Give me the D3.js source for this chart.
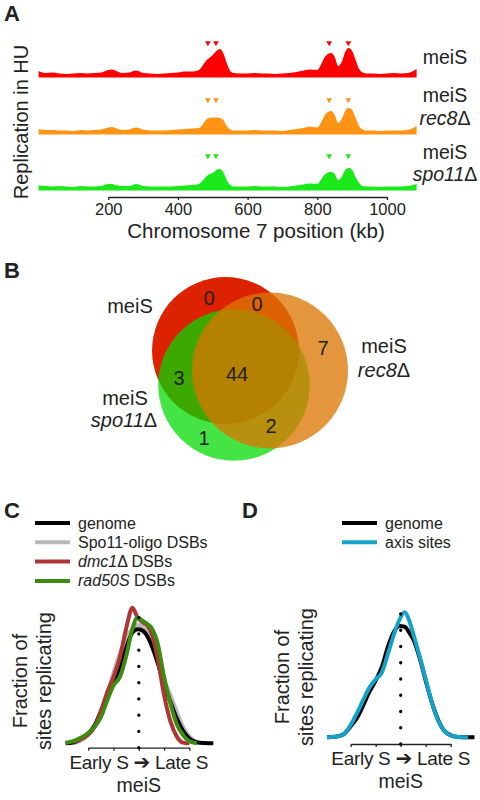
<!DOCTYPE html>
<html>
<head>
<meta charset="utf-8">
<script src="https://cdn.jsdelivr.net/npm/d3@7"></script>
<style>
  body { margin: 0; background: #fff; }
  .container { width: 480px; height: 800px; }
</style>
</head>
<body>
<div class="container"></div>
<script>
// ---- panel A: replication in HU along chromosome 7 (kb) ----
const chrPos = [0,20,40,60,80,100,120,140,160,180,200,210,220,240,260,280,300,320,340,360,380,400,420,440,460,
  470,480,490,500,510,520,530,540,550,560,580,600,620,640,660,680,700,720,740,760,780,800,
  810,820,830,840,850,860,870,880,890,900,910,920,930,940,960,980,1000,1020,1040,1060,1085];
const meiS = [3,1,1.5,0.5,0,0.5,1,0.5,1,1.5,4, 4.5,3.5, 1,1.5,3.5,1,0.5,0,0.5,1,1.5,2.5,2.5,4,
  8,13,16,19,23,25,21,11,3,1, 0.5,0.5,1,0.5,0.5,0,0.5,1,2,3.5,4.5,4,
  9,16,20,21,17,8,12,22,26,23,14,5,1.5,0.5, 0.5,0,0.5,1,0.5,1,5];
const meiSrec8 = [2,1,1,0.5,0.5,0,1,0.5,1,1.5,3.5, 4,3, 1,1.5,3.5,1.5,0.5,0.5,0.5,1,1.5,2,2.5,3,
  6,11,13,13.5,13.5,13,11,5,1.5,0.5, 0.5,0.5,1,0.5,0.5,0.5,0,1,2,3,4.5,3.5,
  8,15,19,20,16,8,12,20,23,21,13,5,1.5,0.5, 0.5,0,0.5,0.5,0.5,1,5];
const meiSspo11 = [1.5,1,0.5,1,0.5,0,1,0.5,0.5,1,3, 3,2, 1,1,3,1,0.5,0.5,0.5,0.5,1,1.5,2,3,
  6,10,13,14,17,18,15,7,2,0.5, 0.5,0.5,1,0.5,0.5,0.5,0,0.5,1.5,2.5,3.5,3,
  7,12,14.5,15,13,7,10,17,19,17,10,4,1,0.5, 0.5,0,0.5,0.5,0.5,1,3];
const originKb = [486, 509, 834, 889];
const chrTicks = [200, 400, 600, 800, 1000];

// ---- panel B: overlap of sites ----
const vennSets = ['meiS', 'meiS rec8Δ', 'meiS spo11Δ'];
const vennRegions = [[0], [0, 1], [1], [0, 2], [0, 1, 2], [1, 2], [2]];
const vennCounts = [0, 0, 7, 3, 44, 2, 1];

// ---- panel C / D: replication timing density ----
const rtC = [-0.9,-0.6,-0.3,0,0.25,0.5,0.75,1,1.25,1.5,1.75,1.95,2.15,2.35,2.5,2.75,3,3.25,3.5,3.75,4,4.3,4.6,4.95];
const genomeC = [0,0.005,0.03,0.07,0.13,0.23,0.33,0.44,0.54,0.69,0.80,0.824,0.815,0.77,0.71,0.58,0.43,0.30,0.18,0.09,0.035,0.008,0.002,0];
const spo11C = [null,0,0.02,0.06,0.12,0.24,0.36,0.51,0.65,0.76,0.83,0.855,0.845,0.80,0.75,0.62,0.46,0.35,0.23,0.12,0.05,0.005,null,null];
const dmc1C = [null,0.01,0.03,0.065,0.12,0.23,0.37,0.48,0.62,0.83,0.98,0.91,0.875,0.85,0.80,0.61,0.35,0.16,0.05,0.005,0,null,null,null];
const rad50C = [0.004,0.015,0.04,0.075,0.12,0.19,0.31,0.42,0.48,0.63,0.83,0.91,0.885,0.86,0.835,0.72,0.48,0.29,0.14,0.06,0.015,0,null,null];

const rtD = [-0.95,-0.6,-0.3,0,0.25,0.5,0.75,1,1.25,1.5,1.75,1.95,2.15,2.35,2.5,2.75,3,3.25,3.5,3.75,4,4.3,4.7,4.95];
const genomeD = [0,0.004,0.02,0.08,0.14,0.23,0.33,0.41,0.51,0.66,0.77,0.805,0.80,0.755,0.71,0.58,0.41,0.25,0.125,0.045,0.015,0.003,0,0];
const axisD = [0,0.004,0.02,0.09,0.175,0.27,0.36,0.42,0.47,0.61,0.755,0.85,0.905,0.84,0.75,0.59,0.42,0.25,0.12,0.045,0.012,0.002,0,null];
const rtTicks = [0, 1, 2, 3, 4];


const font = '"Liberation Sans", Arial, Helvetica, sans-serif';
const ink = '#222';

let svg = d3.select('.container').append('svg')
  .attr('width', 480)
  .attr('height', 800)
  .style('background', '#fff')
  .style('font-family', font);

// writes a label made of pieces, some of them italic
function rich(sel, parts) {
  parts.forEach(p => {
    sel.append('tspan')
      .attr('font-style', p[1] ? 'italic' : 'normal')
      .text(p[0]);
  });
  return sel;
}

function label(g, x, y, parts, size, anchor) {
  let t = g.append('text')
    .attr('x', x)
    .attr('y', y)
    .attr('fill', ink)
    .attr('font-size', size)
    .attr('text-anchor', anchor || 'middle');
  return rich(t, parts);
}

// panel letters
[['A', 4, 21], ['B', 4, 278], ['C', 4, 518], ['D', 242, 518]].forEach(p => {
  svg.append('text').attr('x', p[1]).attr('y', p[2])
    .attr('font-size', 22).attr('font-weight', 'bold').attr('fill', ink)
    .text(p[0]);
});

// ================= A =================
let gA = svg.append('g');
const xA = d3.scaleLinear().domain([0, 1000]).range([38.6, 387]);
const yA = d3.scaleLinear().domain([0, 30]).range([0, 30]);

const tracks = [
  {values: meiS, color: '#ff0000', base: 74, lines: [[['meiS', false]]]},
  {values: meiSrec8, color: '#ff9414', base: 131, lines: [[['meiS', false]], [['rec8', true], ['Δ', false]]]},
  {values: meiSspo11, color: '#1aea1a', base: 187, lines: [[['meiS', false]], [['spo11', true], ['Δ', false]]]}
];
const trackLabelY = [[64], [102, 125], [159, 181]];

tracks.forEach((t, k) => {
  const area = d3.area()
    .x((d, i) => xA(chrPos[i]))
    .y0(t.base + 3.5)
    .y1(d => t.base - yA(d))
    .curve(d3.curveMonotoneX);

  gA.append('path')
    .datum(t.values)
    .attr('d', area)
    .attr('fill', t.color);

  gA.selectAll(null)
    .data(originKb)
    .enter()
    .append('path')
    .attr('d', d3.symbol(d3.symbolTriangle, 14))
    .attr('transform', d => `translate(${xA(d)},${t.base - 31}) rotate(180)`)
    .attr('fill', t.color);

  t.lines.forEach((ln, j) => label(gA, 445, trackLabelY[k][j], ln, 19.5));
});

const xAxisA = d3.scaleLinear().domain([200, 1000]).range([xA(200), xA(1000)]);
let axA = gA.append('g')
  .attr('transform', 'translate(0,197)')
  .call(d3.axisBottom(xAxisA).tickValues(chrTicks).tickSize(3).tickSizeOuter(0).tickFormat(d3.format('d')));
axA.attr('font-family', font).attr('font-size', 16.5);
axA.selectAll('path, line').attr('stroke', ink).attr('stroke-width', 1.3);
axA.selectAll('text').attr('fill', ink);

label(gA, 256, 238, [['Chromosome 7 position (kb)', false]], 20.5);
gA.append('text')
  .attr('transform', 'translate(28,122) rotate(-90)')
  .attr('text-anchor', 'middle')
  .attr('font-size', 20)
  .attr('fill', ink)
  .text('Replication in HU');

// ================= B =================
let gB = svg.append('g');
const setTotals = vennSets.map((s, i) =>
  d3.sum(vennRegions.map((r, j) => r.includes(i) ? vennCounts[j] : 0)));
const rVenn = d3.scaleSqrt().domain([0, d3.max(setTotals)]).range([0, 78]);

// circle layout (drawing order red, green, orange)
const vennCircles = [
  {set: 0, cx: 225.5, cy: 350.5, color: '#dd2200', op: 1},
  {set: 2, cx: 234, cy: 385, color: '#00da00', op: 0.73},
  {set: 1, cx: 270, cy: 370.5, color: '#dc7500', op: 0.76}
];
gB.selectAll('circle')
  .data(vennCircles)
  .enter()
  .append('circle')
  .attr('cx', d => d.cx)
  .attr('cy', d => d.cy)
  .attr('r', d => rVenn(setTotals[d.set]))
  .attr('fill', d => d.color)
  .attr('fill-opacity', d => d.op);

const regionLabelPos = [[209, 305], [257, 311], [323, 355], [179, 385], [237, 381], [271, 433], [204, 445]];
vennCounts.forEach((c, i) => label(gB, regionLabelPos[i][0], regionLabelPos[i][1], [[String(c), false]], 20));

label(gB, 130, 313, [['meiS', false]], 20);
label(gB, 384, 353, [['meiS', false]], 20);
label(gB, 384, 377, [['rec8', true], ['Δ', false]], 20);
label(gB, 125, 405, [['meiS', false]], 20);
label(gB, 124, 427, [['spo11', true], ['Δ', false]], 20);

// ================= C / D =================
function densityPanel(cfg) {
  let g = svg.append('g');
  const x = d3.scaleLinear().domain([0, 4]).range(cfg.xRange);
  const y = d3.scaleLinear().domain([0, 1]).range([cfg.base, cfg.base - 138.3]);

  // legend
  cfg.series.forEach((s, i) => {
    const ly = cfg.legendY + i * 19.3;
    g.append('line')
      .attr('x1', cfg.legendX).attr('x2', cfg.legendX + 35)
      .attr('y1', ly).attr('y2', ly)
      .attr('stroke', s.color).attr('stroke-width', 4);
    label(g, cfg.legendX + 43, ly + 5.5, s.label, 16, 'start');
  });

  // axis
  let ax = g.append('g')
    .attr('transform', `translate(0,${cfg.axisY})`)
    .call(d3.axisBottom(x).tickValues(rtTicks).tickSize(3).tickSizeOuter(0).tickFormat(''));
  ax.selectAll('path, line').attr('stroke', ink).attr('stroke-width', 1.3);

  // curves
  cfg.series.slice().sort((a, b) => a.z - b.z).forEach(s => {
    const line = d3.line()
      .defined(d => d !== null)
      .x((d, i) => x(cfg.grid[i]))
      .y(d => y(d))
      .curve(d3.curveMonotoneX);
    g.append('path')
      .datum(s.values)
      .attr('d', line)
      .attr('fill', 'none')
      .attr('stroke', s.color)
      .attr('stroke-width', 4)
      .attr('stroke-linejoin', 'round');
  });

  // dotted midline
  g.append('line')
    .attr('x1', x(2)).attr('x2', x(2))
    .attr('y1', cfg.axisY).attr('y2', cfg.axisY - 131)
    .attr('stroke', '#000')
    .attr('stroke-width', 3.3)
    .attr('stroke-linecap', 'round')
    .attr('stroke-dasharray', '0 16.25');

  // labels
  const mid = x(2);
  let t = g.append('text')
    .attr('x', mid).attr('y', cfg.axisY + 21)
    .attr('text-anchor', 'middle').attr('font-size', 19).attr('fill', ink)
    .attr('letter-spacing', -0.3);
  t.append('tspan').text('Early S ');
  t.append('tspan').attr('font-family', '"DejaVu Sans"').attr('font-weight', 'bold').attr('font-size', 20).text('➔');
  t.append('tspan').text(' Late S');
  label(g, mid, cfg.axisY + 44, [['meiS', false]], 19.5);

  ['Fraction of', 'sites replicating'].forEach((s, i) => {
    g.append('text')
      .attr('transform', `translate(${cfg.yLabelX[i]},${cfg.yLabelY}) rotate(-90)`)
      .attr('text-anchor', 'middle')
      .attr('font-size', 20)
      .attr('fill', ink)
      .text(s);
  });
}

densityPanel({
  xRange: [88.3, 189.3], base: 743.3, axisY: 747.7, grid: rtC,
  legendX: 35, legendY: 523, yLabelX: [27, 51], yLabelY: 681,
  series: [
    {label: [['genome', false]], values: genomeC, color: '#000000', z: 1},
    {label: [['Spo11-oligo DSBs', false]], values: spo11C, color: '#b9b9b9', z: 0},
    {label: [['dmc1', true], ['Δ DSBs', false]], values: dmc1C, color: '#b03434', z: 2},
    {label: [['rad50S', true], [' DSBs', false]], values: rad50C, color: '#3c8c10', z: 3}
  ]
});

densityPanel({
  xRange: [350.7, 450.7], base: 737.3, axisY: 744, grid: rtD,
  legendX: 342, legendY: 523, yLabelX: [289, 313], yLabelY: 677,
  series: [
    {label: [['genome', false]], values: genomeD, color: '#000000', z: 0},
    {label: [['axis sites', false]], values: axisD, color: '#14a2c8', z: 1}
  ]
});
</script>
</body>
</html>
